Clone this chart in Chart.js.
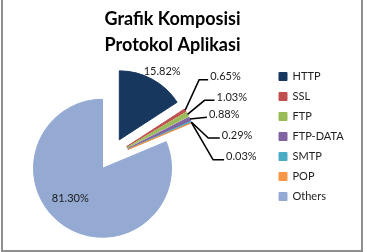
<!DOCTYPE html>
<html>
<head>
<meta charset="utf-8">
<script src="https://cdn.jsdelivr.net/npm/chart.js@4/dist/chart.umd.min.js"></script>
<style>
  html, body { margin: 0; padding: 0; background: #fff; }
  #wrap { position: relative; width: 367px; height: 252px; overflow: hidden; }
  #chart { position: absolute; left: 0; top: 0; }
  #frame {
    position: absolute; left: 1px; top: -4px; width: 358px; height: 252px;
    border: 2px solid #8f8f8f; pointer-events: none;
  }
</style>
</head>
<body>
<div id="wrap">
  <canvas id="chart" width="367" height="252"></canvas>
  <div id="frame"></div>
</div>
<script>
const protocols = ['HTTP', 'SSL', 'FTP', 'FTP-DATA', 'SMTP', 'POP', 'Others'];
const shares = [15.82, 0.65, 1.03, 0.88, 0.29, 0.03, 81.30];
const colors = ['#17375E', '#C0504D', '#9BBB59', '#8064A2', '#4BACC6', '#F79646', '#94AAD3'];
const explode = [19.5, 19.5, 19.5, 19.5, 19.5, 19.5, 13.5];

// pie slice that is pulled out from the centre without changing its size
class ExplodedArc extends Chart.ArcElement {
  draw(ctx) {
    const push = this.options.explode || 0;
    const mid = (this.startAngle + this.endAngle) / 2;
    ctx.save();
    ctx.translate(Math.cos(mid) * push, Math.sin(mid) * push);
    super.draw(ctx);
    ctx.restore();
  }
}
ExplodedArc.id = 'explodedArc';
ExplodedArc.defaults = { explode: 0 };

class ExplodedPie extends Chart.PieController {}
ExplodedPie.id = 'explodedPie';
ExplodedPie.defaults = { dataElementType: 'explodedArc' };

Chart.register(ExplodedArc, ExplodedPie);

// empty box that keeps some room between the pie and the legend
const legendGap = {
  id: 'legendGap',
  beforeInit(chart, args, opts) {
    Chart.layouts.addBox(chart, {
      position: 'right', weight: 0, fullSize: false, options: {},
      width: 0, height: 0,
      isHorizontal() { return false; },
      update(maxWidth, maxHeight) { this.width = opts.width; this.height = maxHeight; },
      draw() {}
    });
  }
};

// percentage labels, the small slices get leader lines
const sliceLabels = {
  id: 'sliceLabels',
  afterDatasetsDraw(chart, args, opts) {
    const ctx = chart.ctx;
    const arcs = chart.getDatasetMeta(0).data;
    ctx.save();
    ctx.font = '11px Lato';
    ctx.fillStyle = '#1a1a1a';
    ctx.strokeStyle = '#000';
    ctx.lineWidth = 1.6;
    arcs.forEach((arc, i) => {
      const mid = (arc.startAngle + arc.endAngle) / 2;
      const dist = (arc.options.explode || 0) + arc.outerRadius;
      const ex = arc.x + Math.cos(mid) * dist;
      const ey = arc.y + Math.sin(mid) * dist;
      const place = opts.place[i];
      const text = shares[i].toFixed(2) + '%';
      if (place.tail !== undefined) {
        const kx = ex + place.dx, ky = ey + place.dy;
        ctx.beginPath();
        ctx.moveTo(ex, ey);
        ctx.lineTo(kx, ky);
        ctx.lineTo(kx + place.tail, ky);
        ctx.stroke();
        ctx.textAlign = 'left';
        ctx.textBaseline = 'middle';
        ctx.fillText(text, kx + place.tail + 2, ky - 3);
      } else {
        ctx.textAlign = 'center';
        ctx.textBaseline = 'middle';
        ctx.fillText(text, ex + place.dx, ey + place.dy);
      }
    });
    ctx.restore();
  }
};

new Chart(document.getElementById('chart'), {
  type: 'explodedPie',
  data: {
    labels: protocols,
    datasets: [{
      data: shares,
      backgroundColor: colors,
      borderColor: colors,
      borderWidth: 1,
      explode: explode
    }]
  },
  options: {
    responsive: false,
    animation: false,
    events: [],
    radius: 69,
    layout: { padding: { left: 0, right: 22, top: 0, bottom: 0 } },
    plugins: {
      title: {
        display: true,
        text: ['Grafik Komposisi', 'Protokol Aplikasi'],
        color: '#000',
        font: { family: 'Lato', size: 18, weight: 'bold', lineHeight: '26px' },
        padding: { top: 6, bottom: 4 }
      },
      legend: {
        position: 'right',
        align: 'start',
        fullSize: false,
        maxWidth: 75,
        labels: {
          boxWidth: 8,
          boxHeight: 8,
          padding: 9,
          color: '#222',
          font: { family: 'Lato', size: 11 }
        }
      },
      tooltip: { enabled: false },
      legendGap: { width: 50 },
      sliceLabels: {
        place: [
          { dx: 10, dy: -7.5 },
          { dx: 14, dy: -30.5, tail: 9 },
          { dx: 17, dy: -14, tail: 10 },
          { dx: 17, dy: -1.7, tail: 0 },
          { dx: 17, dy: 16, tail: 11.5 },
          { dx: 21.5, dy: 37, tail: 11 },
          { dx: 6, dy: -27.5 }
        ]
      }
    }
  },
  plugins: [legendGap, sliceLabels]
});
</script>
</body>
</html>
